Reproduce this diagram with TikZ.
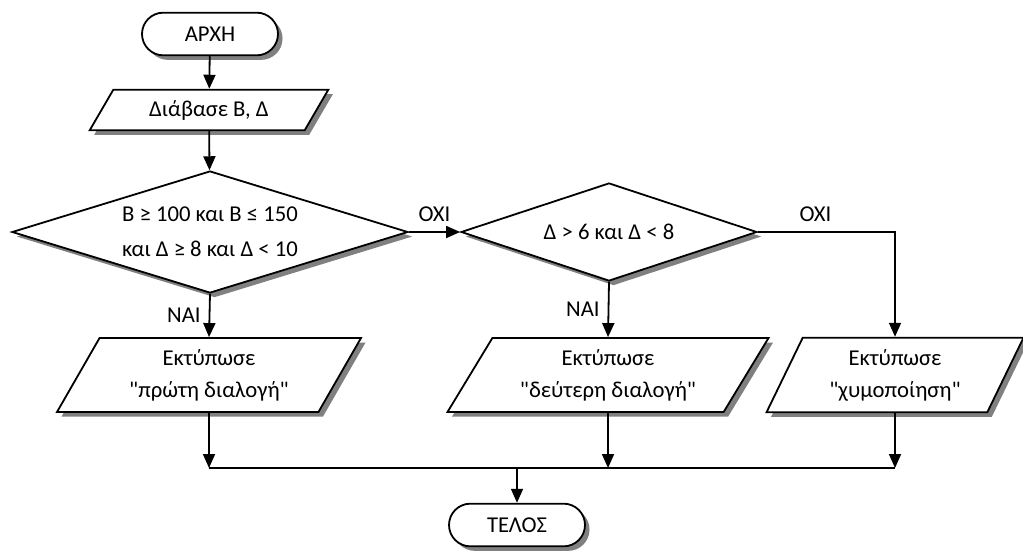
\documentclass[tikz,border=0pt]{standalone}
\usepackage{fontspec}
\setmainfont{Carlito}[Ligatures=TeXOff]
\usetikzlibrary{shapes.geometric,shapes.misc,shadows,arrows.meta}

\tikzset{
  shapebase/.style={draw, line width=1.35pt, fill=white, inner sep=0pt, align=center,
    drop shadow={shadow xshift=3.4pt, shadow yshift=-3.4pt, fill=black!50, opacity=1}},
  terminal/.style={shapebase, rounded rectangle, minimum width=102pt, minimum height=32pt},
  iobox/.style={shapebase, trapezium, trapezium stretches body},
  decision/.style={shapebase, diamond},
  flow/.style={line width=1.35pt, -{Triangle[length=10.5pt,width=9pt]}},
  plain/.style={line width=1.35pt},
  lbl/.style={inner sep=0pt}
}

\begin{document}
\begin{tikzpicture}[x=0.75pt, y=-0.75pt, font=\fontsize{17}{24}\selectfont]
  \useasboundingbox (0,0) rectangle (1023,550);

  % nodes
  \node[terminal] (start) at (210,34) {ΑΡΧΗ};
  \node[iobox, trapezium left angle=40, trapezium right angle=140,
        minimum width=179pt, minimum height=30.5pt] (read) at (209,110) {Διάβασε Β, Δ};
  \node[decision, aspect=3.25, minimum width=297pt, minimum height=91.5pt,
        font=\fontsize{17}{26}\selectfont] (d1) at (210,232)
        {Β ≥ 100 και Β ≤ 150\\και Δ ≥ 8 και Δ < 10};
  \node[decision, aspect=3.02, minimum width=222pt, minimum height=73.5pt] (d2) at (609,232)
        {Δ > 6 και Δ < 8};
  \node[iobox, trapezium left angle=50.5, trapezium right angle=129.5,
        minimum width=228pt, minimum height=55.5pt] (p1) at (209,375)
        {Εκτύπωσε\\"πρώτη διαλογή"};
  \node[iobox, trapezium left angle=49, trapezium right angle=131,
        minimum width=240.75pt, minimum height=55.5pt] (p2) at (608,375)
        {Εκτύπωσε\\"δεύτερη διαλογή"};
  \node[iobox, trapezium left angle=55, trapezium right angle=125,
        minimum width=192.75pt, minimum height=56pt] (p3) at (895,375)
        {Εκτύπωσε\\"χυμοποίηση"};
  \node[terminal] (end) at (517,525) {ΤΕΛΟΣ};

  % junction row
  \coordinate (row) at (0,468);
  \coordinate (m1) at (p1.south |- row);
  \coordinate (m2) at (p2.south |- row);
  \coordinate (m3) at (p3.south |- row);
  \coordinate (mc) at (end.north |- row);
  \coordinate (turn) at (p3.north |- d2.east);

  % connectors
  \draw[flow] (start) -- (read);
  \draw[flow] (read) -- (d1);
  \draw[flow] (d1.east) -- node[lbl, above=7pt] {ΟΧΙ} (d2.west);
  \draw[flow] (d1.south) -- node[lbl, left=6pt] {ΝΑΙ} (p1.north);
  \draw[flow] (d2.south) -- node[lbl, left=6pt] {ΝΑΙ} (p2.north);
  \draw[flow] (d2.east) -- node[lbl, above=7pt, pos=0.42] {ΟΧΙ} (turn) -- (p3.north);
  \draw[flow] (p1.south) -- (m1);
  \draw[flow] (p2.south) -- (m2);
  \draw[flow] (p3.south) -- (m3);
  \draw[plain] (m1) -- (m3);
  \draw[flow] (mc) -- (end.north);
\end{tikzpicture}
\end{document}
